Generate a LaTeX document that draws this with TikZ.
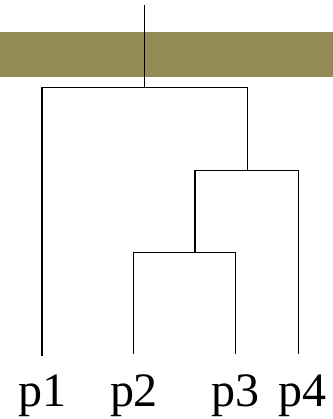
\documentclass[tikz,border=0pt]{standalone}
\usepackage{fontspec}
\setmainfont{Liberation Serif}
\definecolor{olive}{HTML}{948A54}
\begin{document}
\begin{tikzpicture}[x=0.75pt,y=-0.75pt,
  link/.style={draw=black,line width=0.75pt},
  leaf/.style={font=\fontsize{36}{40}\selectfont,inner sep=0pt,anchor=base}]
\useasboundingbox (0,0) rectangle (333,419);
\fill[olive] (0,32) rectangle (333,77);
% coordinates
\coordinate (top) at (144.5,5);
\coordinate (m1) at (144.5,87);
\coordinate (m1l) at (42,87);
\coordinate (m1r) at (247,87);
\coordinate (m2) at (247,170);
\coordinate (m2l) at (195,170);
\coordinate (m2r) at (298,170);
\coordinate (m3) at (195,252);
\coordinate (m3l) at (133,252);
\coordinate (m3r) at (236,252);
\coordinate (e1) at (42,356);
\coordinate (e2) at (133,354);
\coordinate (e3) at (236,354);
\coordinate (e4) at (298,354);
\draw[link] (top) -- (m1);
\draw[link] (e1) -- (m1l) -- (m1r) -- (m2);
\draw[link] (m3) -- (m2l) -- (m2r) -- (e4);
\draw[link] (e2) -- (m3l) -- (m3r) -- (e3);
\node[leaf] (p1) at (42,406) {p1};
\node[leaf] (p2) at (134,406) {p2};
\node[leaf] (p3) at (236,406) {p3};
\node[leaf] (p4) at (302,406) {p4};
\end{tikzpicture}
\end{document}
